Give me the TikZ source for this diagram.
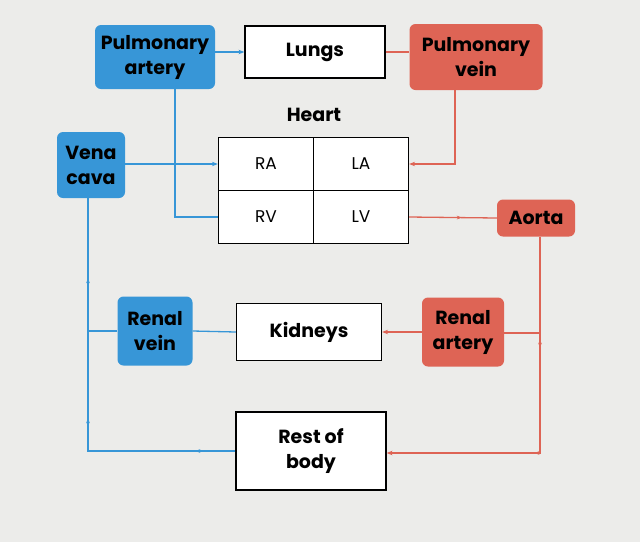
\documentclass[tikz,border=0pt]{standalone}
\usepackage{fontspec}
\setmainfont{Poppins}
\usetikzlibrary{arrows.meta, decorations.markings}
\definecolor{vblue}{RGB}{55,150,215}
\definecolor{ared}{RGB}{222,100,85}
\definecolor{paper}{RGB}{236,236,234}
\begin{document}
\begin{tikzpicture}[x=1pt, y=-1pt, >={Stealth[length=6pt]}, font=\fontsize{19}{25}\selectfont\bfseries,
	blue node/.style={rectangle, rounded corners=6pt, fill=vblue, align=center, inner sep=1pt},
	red node/.style={rectangle, rounded corners=6pt, fill=ared, align=center, inner sep=1pt},
	organ node/.style={rectangle, draw=black, line width=1.2pt, fill=white, align=center, inner sep=1pt},
	cell node/.style={rectangle, draw=black, line width=1.2pt, fill=white, minimum width=95, minimum height=53, font=\fontsize{17}{20}\selectfont},
	blue line/.style={draw=vblue, line width=1.3pt},
	red line/.style={draw=ared, line width=1.3pt},
	mid arrow/.style={postaction={decorate, decoration={markings, mark=at position #1 with {\arrow[fill=.]{Stealth[length=5pt]}}}}}]

			\useasboundingbox[fill=paper] (0,0) rectangle (640,542);

			\node[blue node, minimum width=120, minimum height=64] (partery) at (155,57) {Pulmonary\\artery};
			\node[organ node, minimum width=140, minimum height=52] (lungs) at (315,52) {Lungs};
			\node[red node, minimum width=133, minimum height=66] (pvein) at (476,57) {Pulmonary\\vein};

			\node (heart) at (314,115) {Heart};
			\node[cell node] (ra) at (266,164) {RA};
			\node[cell node] (la) at (361,164) {LA};
			\node[cell node] (rv) at (266,217) {RV};
			\node[cell node] (lv) at (361,217) {LV};

			\node[blue node, minimum width=68, minimum height=66] (vcava) at (91,165) {Vena\\cava};
			\node[red node, minimum width=78, minimum height=37] (aorta) at (536,218) {Aorta};

			\node[blue node, minimum width=75, minimum height=69] (rvein) at (155,331) {Renal\\vein};
			\node[organ node, minimum width=145, minimum height=57] (kidneys) at (309,332) {Kidneys};
			\node[red node, minimum width=82, minimum height=69] (rartery) at (463,332) {Renal\\artery};
			\node[organ node, minimum width=150, minimum height=78] (body) at (311,451) {Rest of\\body};

			\coordinate (bend1) at (455,164);
			\coordinate (bend2) at (175,217);
			\coordinate (bend3) at (540,453);
			\coordinate (bend4) at (540,333);
			\coordinate (bend5) at (88,451);
			\coordinate (bend6) at (88,331);

			% pulmonary circuit
			\draw[blue line, ->] (partery.east |- lungs) -- (lungs.west);
			\draw[red line] (lungs.east) -- (pvein.west |- lungs);
			\draw[red line, ->] (pvein.south -| bend1) -- (bend1) -- (la.east);
			\draw[blue line, ->] (vcava.east |- ra) -- (ra.west);
			\draw[blue line] (rv.west) -- (bend2) -- (partery.south -| bend2);

			% systemic circuit
			\draw[red line, mid arrow=0.6] (lv.east) -- (aorta.west);
			\draw[red line, ->, mid arrow=0.3, mid arrow=0.6] (aorta.south -| bend3) -- (bend3) -- (body.east |- bend3);
			\draw[red line] (bend4) -- (rartery.east |- bend4);
			\draw[red line, ->] (rartery.west) -- (kidneys.east);
			\draw[blue line] (kidneys.west) -- (rvein.east);
			\draw[blue line] (rvein.west) -- (bend6);
			\draw[blue line, mid arrow=0.1, mid arrow=0.45, mid arrow=0.8] (body.west) -- (bend5) -- (vcava.south -| bend5);

		\end{tikzpicture}
\end{document}
